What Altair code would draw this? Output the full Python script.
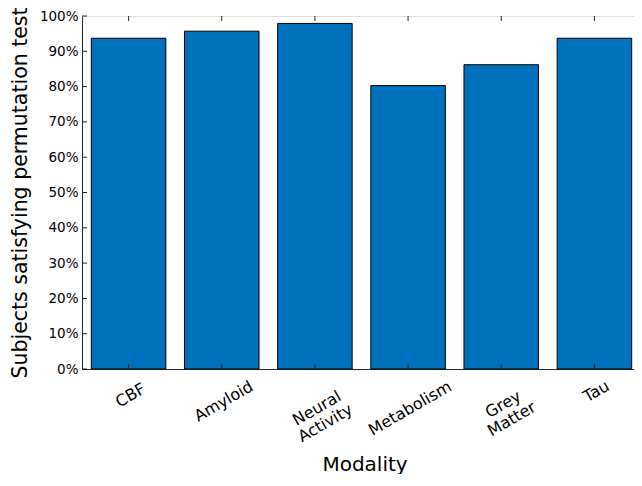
import altair as alt
import pandas as pd

categories = ["CBF", "Amyloid", "Neural Activity", "Metabolism", "Grey Matter", "Tau"]
values = [0.937, 0.957, 0.979, 0.803, 0.862, 0.937]
y_ticks = [0.0, 0.1, 0.2, 0.3, 0.4, 0.5, 0.6, 0.7, 0.8, 0.9, 1.0]
# vertical distance of each rotated label's centre below the axis (px)
label_drop = [26, 32, 39, 39, 35, 22]

W, H = 559, 353
AX = "#262626"
FONT = "DejaVu Sans"

df = pd.DataFrame({"Modality": categories, "Value": values})
yt = pd.DataFrame({"t": y_ticks})
xt = pd.DataFrame({"Modality": categories})

pad_cond = {
    "condition": [
        {"test": f"datum.value == '{c}'", "value": d}
        for c, d in zip(categories, label_drop)
    ],
    "value": 30,
}

xscale = alt.Scale(domain=categories, paddingInner=0.2, paddingOuter=0.1)
yscale = alt.Scale(domain=[0, 1], nice=False)

bars = alt.Chart(df).mark_bar(
    color="#0072BD", stroke="#000000", strokeWidth=1
).encode(
    x=alt.X("Modality:N", scale=xscale, sort=categories,
            axis=alt.Axis(
                title="Modality", labelAngle=-30, labelAlign="center",
                labelBaseline="middle", labelPadding=pad_cond, labelOffset=2,
                ticks=False,
                labelExpr="split(datum.label, ' ')", labelLineHeight=17,
                labelFont=FONT, labelFontSize=16, labelColor="#000000",
                titleFont=FONT, titleFontSize=20, titleFontWeight="normal",
                titleColor="#000000", titleX=W / 2 + 3, titleY=95,
                titleBaseline="middle",
                domainColor=AX, labelOverlap=False)),
    y=alt.Y("Value:Q", scale=yscale,
            axis=alt.Axis(
                title="Subjects satisfying permutation test", values=y_ticks,
                format=".0%", grid=False, ticks=False, labelPadding=4,
                labelOverlap=False, labelFlush=False,
                labelFont=FONT, labelFontSize=13.5, labelColor="#000000",
                titleFont=FONT, titleFontSize=20.5, titleFontWeight="normal",
                titleColor="#000000", titleX=-62, titleY=H / 2,
                titleAngle=-90, titleBaseline="middle", titleAlign="center",
                domainColor=AX)),
)

tl = 5
yt_left = alt.Chart(yt).mark_rule(color=AX, strokeWidth=1).encode(
    y=alt.Y("t:Q", scale=yscale, axis=None), x=alt.value(0), x2=alt.value(tl))
yt_right = alt.Chart(yt).mark_rule(color=AX, strokeWidth=1).encode(
    y=alt.Y("t:Q", scale=yscale, axis=None), x=alt.value(W - tl), x2=alt.value(W))
xt_bottom = alt.Chart(xt).mark_rule(color=AX, strokeWidth=1).encode(
    x=alt.X("Modality:N", scale=xscale, sort=categories, axis=None),
    y=alt.value(H), y2=alt.value(H - tl))
xt_top = alt.Chart(xt).mark_rule(color=AX, strokeWidth=1).encode(
    x=alt.X("Modality:N", scale=xscale, sort=categories, axis=None),
    y=alt.value(0), y2=alt.value(tl))

chart = alt.layer(bars, yt_left, yt_right, xt_bottom, xt_top).resolve_axis(
    x="independent", y="independent"
).properties(
    width=W, height=H,
    autosize=alt.AutoSizeParams(type="none"),
    padding={"left": 74, "top": 8, "right": -7, "bottom": 105},
).configure_view(stroke=AX, strokeWidth=1).configure(background="white")

chart.save("out.html", embed_options={"renderer": "svg", "actions": False})
